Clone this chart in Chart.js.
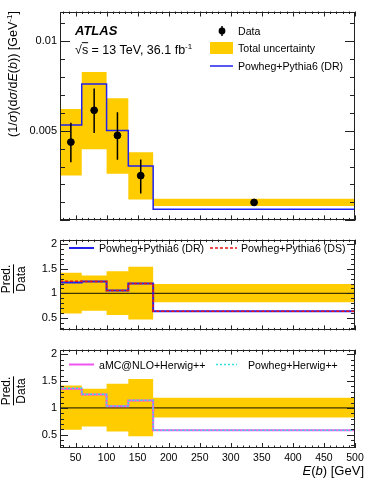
<!DOCTYPE html>
<html>
<head>
<meta charset="utf-8">
<script src="https://cdn.jsdelivr.net/npm/chart.js@4.4.1/dist/chart.umd.min.js"></script>
<style>
html, body { margin: 0; padding: 0; background: #fff; }
#wrap { position: relative; width: 374px; height: 484px; overflow: hidden; font-family: 'Liberation Sans', Arial, Helvetica, sans-serif; color: #000; }
canvas { position: absolute; left: 0; }
.t { position: absolute; white-space: nowrap; line-height: 1; transform: translateY(-50%); }
.rot { position: absolute; white-space: nowrap; line-height: 1; transform: translate(-50%, -50%) rotate(-90deg); }
.lg { font-size: 10.6px; }
.frac { display: inline-block; text-align: center; font-size: 12px; }
.frac span { display: block; }
.frac .num { border-bottom: 1px solid #000; padding-bottom: 1px; margin-bottom: 1px; }
svg { position: absolute; left: 0; top: 0; }
</style>
</head>
<body>
<div id="wrap">
  <canvas id="cMain" width="374" height="230" style="top:0"></canvas>
  <canvas id="cR1" width="374" height="110" style="top:230px"></canvas>
  <canvas id="cR2" width="374" height="144" style="top:340px"></canvas>

  <svg width="374" height="484">
    <line x1="222" y1="26" x2="222" y2="36" stroke="#000" stroke-width="1.5"/>
    <circle cx="222" cy="31" r="3.4" fill="#000"/>
    <rect x="210" y="42" width="23" height="12" fill="#ffcc00"/>
    <line x1="210" y1="66" x2="233" y2="66" stroke="#2222ee" stroke-width="1.5"/>
    <line x1="69" y1="248" x2="94" y2="248" stroke="#2222ee" stroke-width="2"/>
    <line x1="210" y1="248" x2="237" y2="248" stroke="#ee1111" stroke-width="1.5" stroke-dasharray="3,2"/>
    <line x1="69" y1="364.5" x2="94" y2="364.5" stroke="#ee55ee" stroke-width="2"/>
    <line x1="216" y1="364.5" x2="237" y2="364.5" stroke="#33e0e0" stroke-width="1.5" stroke-dasharray="2,2"/>
  </svg>

  <div class="rot" style="left:13px; top:74px; font-size:12.5px;">(1/<i>σ</i>)(d<i>σ</i>/d<i>E</i>(<i>b</i>)) [GeV<sup style="font-size:8px">-1</sup>]</div>
  <div class="t" style="left:75px; top:29.5px; font-size:13px; font-weight:bold; font-style:italic;">ATLAS</div>
  <div class="t" style="left:75px; top:50px; font-size:12.5px;">√<span style="text-decoration:overline">s</span> = 13 TeV, 36.1 fb<sup style="font-size:8px">-1</sup></div>

  <div class="t lg" style="left:238px; top:31px;">Data</div>
  <div class="t lg" style="left:238px; top:48px;">Total uncertainty</div>
  <div class="t lg" style="left:238px; top:66px;">Powheg+Pythia6 (DR)</div>

  <div class="t lg" style="left:99px; top:248px;">Powheg+Pythia6 (DR)</div>
  <div class="t lg" style="left:241px; top:248px;">Powheg+Pythia6 (DS)</div>
  <div class="t lg" style="left:99px; top:364.5px;">aMC@NLO+Herwig++</div>
  <div class="t lg" style="left:248px; top:364.5px;">Powheg+Herwig++</div>

  <div class="rot" style="left:13.5px; top:279px;"><div class="frac"><span class="num">Pred.</span><span>Data</span></div></div>
  <div class="rot" style="left:13.5px; top:391px;"><div class="frac"><span class="num">Pred.</span><span>Data</span></div></div>

  <div class="t" style="right:10px; top:470px; font-size:13px;"><i>E</i>(<i>b</i>) [GeV]</div>
</div>

<script>
// ---- data ----
const binEdges = [25, 60, 100, 135, 175, 500];

const dataVal   = [0.00436, 0.00613, 0.00473, 0.00249, 0.00100];
const dataErrLo = [0.00324, 0.00487, 0.00337, 0.00150, 0.00094];
const dataErrHi = [0.00543, 0.00735, 0.00602, 0.00339, 0.00106];

const bandLo = [0.00250, 0.00396, 0.00260, 0.00117, 0.00080];
const bandHi = [0.00620, 0.00826, 0.00680, 0.00380, 0.00120];

const powhegDR = [0.00531, 0.00760, 0.00500, 0.00303, 0.00062];

const ratioBandLo = [0.59, 0.65, 0.56, 0.47, 0.82];
const ratioBandHi = [1.42, 1.36, 1.45, 1.54, 1.19];

const ratioDR     = [1.22, 1.24, 1.06, 1.20, 0.64];
const ratioDS     = [1.245, 1.24, 1.06, 1.20, 0.64];
const ratioAMC    = [1.36, 1.25, 1.03, 1.14, 0.58];
const ratioPowHer = [1.365, 1.255, 1.035, 1.145, 0.58];

const mainYLabels  = [0.005, 0.01];
const ratioYLabels = [0.5, 1, 1.5, 2];
const xLabels      = [50, 100, 150, 200, 250, 300, 350, 400, 450, 500];

const YELLOW = '#ffcc00';
const BLUE = '#2222ee';
const RED = '#ee1111';
const MAGENTA = '#ee55ee';
const CYAN = '#33e0e0';

Chart.defaults.font.family = "'Liberation Sans', Arial, Helvetica, sans-serif";
Chart.defaults.color = '#000';

function steps(vals) {
    return vals.flatMap((v, i) => [{ x: binEdges[i], y: v }, { x: binEdges[i + 1], y: v }]);
}
const centers = binEdges.slice(0, -1).map((e, i) => (e + binEdges[i + 1]) / 2);

// ROOT style frame with ticks pointing inwards on all four sides
const frameTicks = {
    id: 'frameTicks',
    afterDatasetsDraw(chart, args, o) {
        const { ctx, chartArea: a, scales: { x, y } } = chart;
        const each = (min, max, step, fn) => {
            const n0 = Math.ceil(min / step - 1e-6), n1 = Math.floor(max / step + 1e-6);
            for (let n = n0; n <= n1; n++) fn(n * step);
        };
        const isMult = (v, m) => Math.abs(v / m - Math.round(v / m)) < 1e-6;
        ctx.save();
        ctx.strokeStyle = '#222';
        ctx.lineWidth = 1;
        ctx.beginPath();
        each(x.min, x.max, o.xMinor, v => {
            const px = Math.round(x.getPixelForValue(v)) + 0.5;
            const L = isMult(v, o.xMajor) ? o.xMajLen : o.xMinLen;
            ctx.moveTo(px, a.bottom); ctx.lineTo(px, a.bottom - L);
            ctx.moveTo(px, a.top); ctx.lineTo(px, a.top + L);
        });
        each(y.min, y.max, o.yMinor, v => {
            const py = Math.round(y.getPixelForValue(v)) + 0.5;
            const L = isMult(v, o.yMajor) ? o.yMajLen : o.yMinLen;
            ctx.moveTo(a.left, py); ctx.lineTo(a.left + L, py);
            ctx.moveTo(a.right, py); ctx.lineTo(a.right - L, py);
        });
        ctx.stroke();
        ctx.strokeRect(Math.round(a.left) + 0.5, Math.round(a.top) + 0.5,
            Math.round(a.right) - Math.round(a.left) - 1, Math.round(a.bottom) - Math.round(a.top) - 1);
        ctx.restore();
    }
};

const errorBars = {
    id: 'errorBars',
    afterDatasetsDraw(chart) {
        const { ctx, scales: { x, y } } = chart;
        chart.data.datasets.forEach(ds => {
            if (!ds.errLo) return;
            ctx.save();
            ctx.strokeStyle = '#000';
            ctx.lineWidth = 1.5;
            ctx.beginPath();
            ds.data.forEach((p, j) => {
                const px = x.getPixelForValue(p.x);
                ctx.moveTo(px, y.getPixelForValue(ds.errLo[j]));
                ctx.lineTo(px, y.getPixelForValue(ds.errHi[j]));
            });
            ctx.stroke();
            ctx.restore();
        });
    }
};

function bandSets(lo, hi) {
    return [
        { data: steps(hi), fill: '+1', backgroundColor: YELLOW, borderWidth: 0, pointRadius: 0, order: 10 },
        { data: steps(lo), fill: false, borderWidth: 0, pointRadius: 0, order: 11 }
    ];
}

function stepLine(vals, color, width, dash, order) {
    return { data: steps(vals), borderColor: color, borderWidth: width, borderDash: dash || [],
        pointRadius: 0, fill: false, order: order };
}

function baseOptions(cfg) {
    return {
        responsive: false,
        animation: false,
        events: [],
        layout: { padding: cfg.padding },
        plugins: {
            legend: { display: false },
            tooltip: { enabled: false },
            frameTicks: cfg.ticks
        },
        scales: {
            x: {
                type: 'linear', min: binEdges[0], max: binEdges[binEdges.length - 1],
                display: cfg.showX,
                grid: { display: false, drawTicks: false },
                border: { display: false },
                ticks: { padding: 4, font: { size: 10.5 }, autoSkip: false, maxRotation: 0 },
                afterBuildTicks: s => { s.ticks = xLabels.map(v => ({ value: v })); },
                afterFit: s => { s.height = cfg.xHeight || 0; }
            },
            y: {
                type: 'linear', min: cfg.yMin, max: cfg.yMax,
                grid: { display: false, drawTicks: false },
                border: { display: false },
                ticks: { padding: 3, font: { size: 11 }, autoSkip: false, callback: v => String(v) },
                afterBuildTicks: s => { s.ticks = cfg.yLabels.map(v => ({ value: v })); },
                afterFit: s => { s.width = 60; }
            }
        }
    };
}

// ---- main panel ----
new Chart(document.getElementById('cMain'), {
    type: 'line',
    data: {
        datasets: [
            ...bandSets(bandLo, bandHi),
            stepLine(powhegDR, BLUE, 1.5, null, 2),
            {
                data: centers.map((c, i) => ({ x: c, y: dataVal[i] })),
                showLine: false, pointRadius: 3.4, pointBackgroundColor: '#000', pointBorderColor: '#000',
                errLo: dataErrLo, errHi: dataErrHi, order: 0
            }
        ]
    },
    options: baseOptions({
        padding: { top: 11.5, right: 19, bottom: 9, left: 0 },
        showX: false, yMin: 0, yMax: 0.01163, yLabels: mainYLabels,
        ticks: { xMajor: 50, xMinor: 10, xMajLen: 5, xMinLen: 2.5, yMajor: 0.005, yMinor: 0.001, yMajLen: 10, yMinLen: 5 }
    }),
    plugins: [frameTicks, errorBars]
});

function unity() {
    return { data: [{ x: binEdges[0], y: 1 }, { x: binEdges[binEdges.length - 1], y: 1 }],
        borderColor: 'rgba(0,0,0,0.75)', borderWidth: 1.2, pointRadius: 0, fill: false, order: 5 };
}

const ratioTicks = { xMajor: 50, xMinor: 10, xMajLen: 5, xMinLen: 2.5, yMajor: 0.5, yMinor: 0.1, yMajLen: 8, yMinLen: 4 };

// ---- ratio panel 1 ----
new Chart(document.getElementById('cR1'), {
    type: 'line',
    data: {
        datasets: [
            ...bandSets(ratioBandLo, ratioBandHi),
            unity(),
            stepLine(ratioDR, BLUE, 2, null, 2),
            stepLine(ratioDS, RED, 1.5, [3, 2], 1)
        ]
    },
    options: baseOptions({
        padding: { top: 5.5, right: 19, bottom: 4.5, left: 0 },
        showX: false, yMin: 0.25, yMax: 2.09, yLabels: ratioYLabels, ticks: ratioTicks
    }),
    plugins: [frameTicks]
});

// ---- ratio panel 2 ----
new Chart(document.getElementById('cR2'), {
    type: 'line',
    data: {
        datasets: [
            ...bandSets(ratioBandLo, ratioBandHi),
            unity(),
            stepLine(ratioAMC, MAGENTA, 2, null, 2),
            stepLine(ratioPowHer, CYAN, 1.5, [2, 2], 1)
        ]
    },
    options: baseOptions({
        padding: { top: 6.7, right: 19, bottom: 0, left: 0 },
        showX: true, xHeight: 36, yMin: 0.25, yMax: 2.09, yLabels: ratioYLabels, ticks: ratioTicks
    }),
    plugins: [frameTicks]
});
</script>
</body>
</html>
